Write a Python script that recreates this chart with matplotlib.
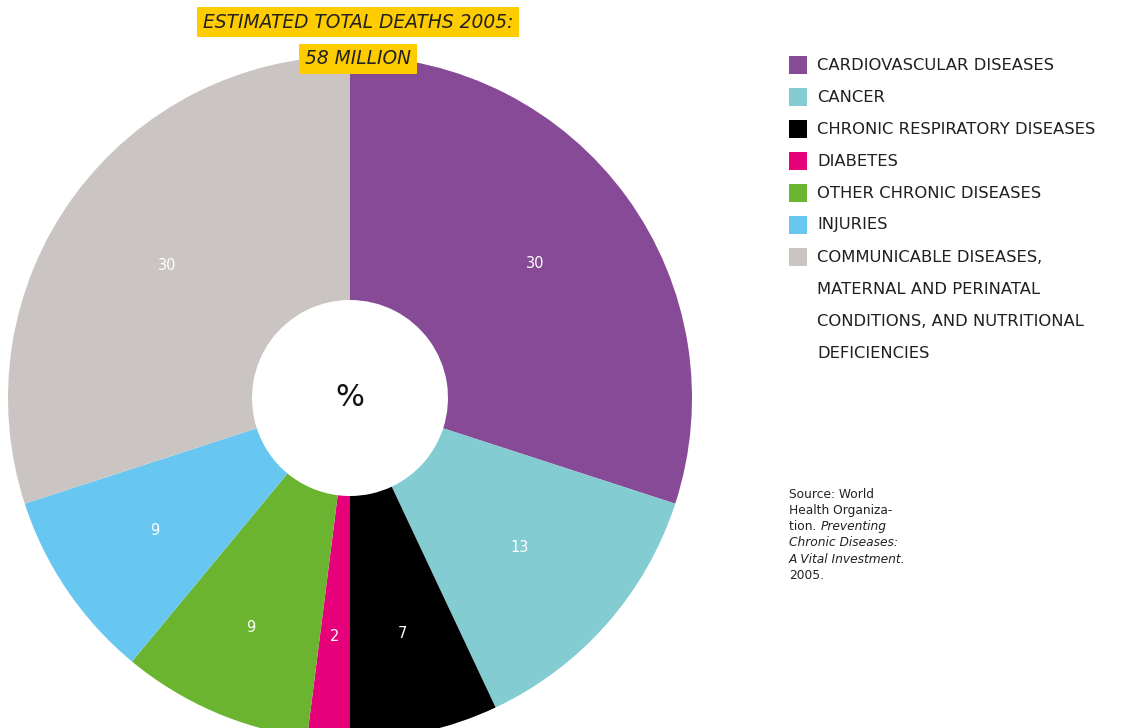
import matplotlib.pyplot as plt
from matplotlib.patches import Rectangle

plt.rcParams['font.family'] = ['DejaVu Sans']

categories = ['CARDIOVASCULAR DISEASES', 'CANCER', 'CHRONIC RESPIRATORY DISEASES',
              'DIABETES', 'OTHER CHRONIC DISEASES', 'INJURIES',
              'COMMUNICABLE DISEASES,\nMATERNAL AND PERINATAL\nCONDITIONS, AND NUTRITIONAL\nDEFICIENCIES']
values = [30, 13, 7, 2, 9, 9, 30]
colors = ['#874A96', '#82CCD2', '#000000', '#E6007A', '#6AB42F', '#68C7F0', '#CAC5C3']
label_dist = [0.67, 0.66, 0.705, 0.70, 0.73, 0.69, 0.66]

W, H = 1126, 728
fig = plt.figure(figsize=(W / 100, H / 100), dpi=100)
ax = fig.add_axes([0, 0, 1, 1])

R = 342
cx, cy = 350, H - 398
wedges, texts = ax.pie(values, colors=colors, labels=[str(v) for v in values],
                       startangle=90, counterclock=False, center=(cx, cy), radius=R,
                       labeldistance=0.67, frame=True,
                       wedgeprops=dict(width=R - 98, linewidth=0),
                       textprops=dict(color='white', fontsize=10.5))
for t, d in zip(texts, label_dist):
    x, y = t.get_position()
    s = d / 0.67
    t.set_position((cx + (x - cx) * s, cy + (y - cy) * s))
    t.set_horizontalalignment('center')
    t.set_verticalalignment('center')

ax.set_xlim(0, W)
ax.set_ylim(0, H)
ax.set_aspect('equal')
ax.axis('off')

ax.text(cx, cy, '%', fontsize=22, ha='center', va='center', color='#111111')

# title boxes
ybox = dict(boxstyle='square,pad=0.3', facecolor='#FFCC00', edgecolor='none')
ax.text(358, H - 22, 'ESTIMATED TOTAL DEATHS 2005:', fontsize=13.4, style='italic',
        ha='center', va='center', color='#222222', bbox=ybox)
ax.text(358, H - 59, '58 MILLION', fontsize=13.4, style='italic',
        ha='center', va='center', color='#222222', bbox=ybox)

# legend
row = 0
for lab, c in zip(categories, colors):
    y = H - (65 + 32 * row)
    ax.add_patch(Rectangle((789, y - 9), 18, 18, facecolor=c, edgecolor='none'))
    for line in lab.split('\n'):
        ax.text(817, H - (65 + 32 * row), line, fontsize=11.8, ha='left', va='center',
                color='#231F20')
        row += 1

# source note
src_x, src_y, lh = 789, H - 494, 16.3
fs = 8.8
ax.text(src_x, src_y, 'Source: World', fontsize=fs, va='center', color='#222222')
ax.text(src_x, src_y - lh, 'Health Organiza-', fontsize=fs, va='center', color='#222222')
t1 = ax.text(src_x, src_y - 2 * lh, 'tion. ', fontsize=fs, va='center', color='#222222')
ax.annotate('Preventing', xy=(1, 0), xycoords=t1, va='bottom', fontsize=fs,
            style='italic', color='#222222')
ax.text(src_x, src_y - 3 * lh, 'Chronic Diseases:', fontsize=fs, va='center',
        style='italic', color='#222222')
ax.text(src_x, src_y - 4 * lh, 'A Vital Investment.', fontsize=fs, va='center',
        style='italic', color='#222222')
ax.text(src_x, src_y - 5 * lh, '2005.', fontsize=fs, va='center', color='#222222')

fig.savefig('out.png', dpi=100)
